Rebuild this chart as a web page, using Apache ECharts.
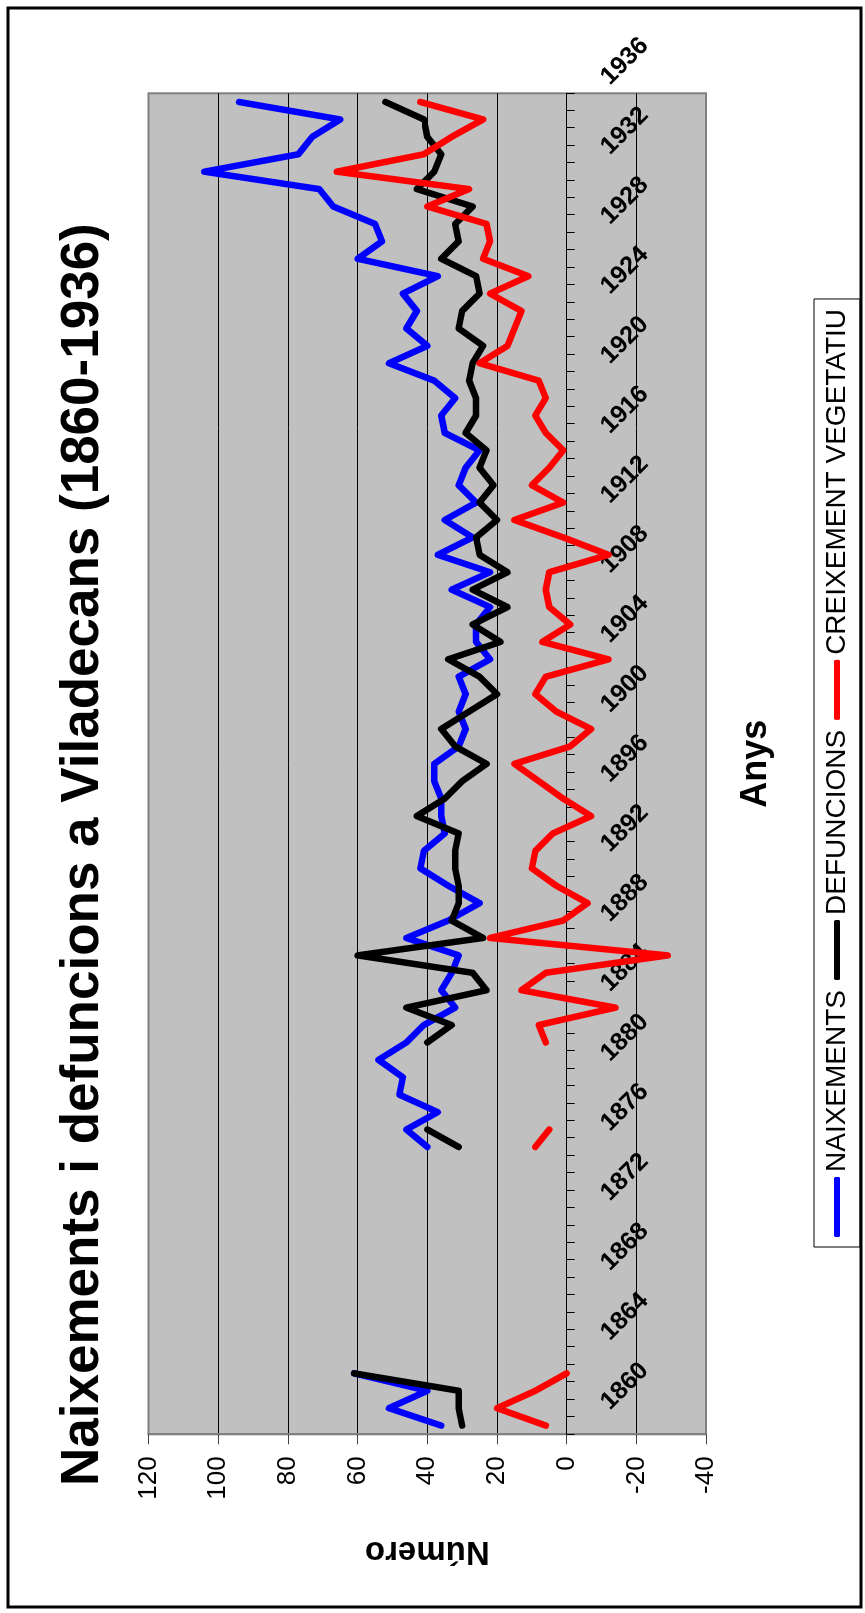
<!DOCTYPE html>
<html><head><meta charset="utf-8">
<script src="https://cdn.jsdelivr.net/npm/echarts@6/dist/echarts.min.js"></script>
<style>
html,body{margin:0;padding:0;background:#fff;overflow:hidden;width:865px;height:1613px;}
#c{position:absolute;left:0;top:0;width:1613px;height:865px;transform-origin:0 0;transform:translateY(1613px) rotate(-90deg);}
</style></head><body><div id="c"></div>
<script>
const years = [1860,1861,1862,1863,1864,1865,1866,1867,1868,1869,1870,1871,1872,1873,1874,1875,1876,1877,1878,1879,
1880,1881,1882,1883,1884,1885,1886,1887,1888,1889,1890,1891,1892,1893,1894,1895,1896,1897,1898,1899,
1900,1901,1902,1903,1904,1905,1906,1907,1908,1909,1910,1911,1912,1913,1914,1915,1916,1917,1918,1919,
1920,1921,1922,1923,1924,1925,1926,1927,1928,1929,1930,1931,1932,1933,1934,1935,1936];
const naixements = [36,51,40,61, null,null,null,null,null,null,null,null,null,null,null,null,
40,46,37,48,47,54,46,41,32,36,
33,31,46,34,25,34,42,41,35,36,
36,38,38,31,29,31,29,31,22,26,
26,22,33,22,37,27,35,26,31,29,
25,35,36,32,38,51,40,46,43,47,
37,60,53,55,67,71,104,77,73,65,
94];
const defuncions = [30,31,31,61, null,null,null,null,null,null,null,null,null,null,null,null,
31,40,null,null,null,null,40,33,46,23,
27,60,24,33,31,31,32,32,31,43,
35,30,23,32,36,28,20,25,34,19,
27,17,27,17,25,26,20,25,21,25,
23,29,26,26,28,27,24,31,30,25,
26,36,31,32,27,43,38,36,40,41,
52];
const creixement = [6,20,9,0, null,null,null,null,null,null,null,null,null,null,null,null,
9,5,null,null,null,null,6,8,-14,13,
6,-29,22,1,-6,3,10,9,4,-7,
1,8,15,-1,-7,3,9,6,-12,7,
-1,5,6,5,-12,1,15,1,10,5,
1,6,9,6,8,25,17,15,13,22,
11,24,22,23,40,28,66,41,33,24,
42];
const seriesNames = ['NAIXEMENTS','DEFUNCIONS','CREIXEMENT VEGETATIU'];
const seriesColors = ['#0000FF','#000000','#FF0000'];
const FF = "'Liberation Sans', Arial, sans-serif";

const chart = echarts.init(document.getElementById('c'), null, {renderer:'canvas', width:1613, height:865});
const mk = (i, data) => ({
  name: seriesNames[i], type:'line', xAxisIndex:0, yAxisIndex:0, data: data,
  symbol:'none', showSymbol:false, connectNulls:false,
  lineStyle:{width:6.5, color:seriesColors[i], cap:'round', join:'round'},
  itemStyle:{color:seriesColors[i]}
});
chart.setOption({
  animation:false,
  backgroundColor:'#fff',
  title:{text:'Naixements i defuncions a Viladecans (1860-1936)', left:127, top:57, padding:0,
    textStyle:{fontSize:53, fontWeight:'bold', color:'#000', fontFamily:FF}},
  legend:{left:366, top:814, orient:'horizontal', icon:'roundRect', itemWidth:60, itemHeight:6, itemGap:10,
    padding:[9,10], borderColor:'#000', borderWidth:1, data:seriesNames,
    textStyle:{fontSize:28, color:'#000', fontFamily:FF}},
  graphic:[{type:'rect', shape:{x:6, y:8, width:1599, height:853}, style:{fill:'none', stroke:'#000', lineWidth:3}, silent:true}],
  grid:[
    {left:178.7, right:93.3, top:148.5, bottom:158.9, show:true, backgroundColor:'#C0C0C0', borderColor:'#808080', borderWidth:2, outerBoundsMode:'none', containLabel:false},
    {left:207, right:81, top:148.5, bottom:298.3, show:false, outerBoundsMode:'none', containLabel:false}
  ],
  xAxis:[
    {gridIndex:0, type:'category', data:years, boundaryGap:true,
      axisLine:{onZero:true, lineStyle:{color:'#000', width:1}},
      axisTick:{show:true, interval:0, length:8, lineStyle:{color:'#000', width:1}},
      axisLabel:{show:false}, splitLine:{show:false},
      name:'Anys', nameLocation:'middle', nameGap:32,
      nameTextStyle:{fontSize:36, fontWeight:'bold', color:'#000', fontFamily:FF}},
    {gridIndex:1, type:'category', data:years, boundaryGap:false,
      axisLine:{show:false}, axisTick:{show:false}, splitLine:{show:false},
      axisLabel:{interval:3, rotate:-45, margin:38.5, fontSize:25, fontWeight:'bold', color:'#000', fontFamily:FF}}
  ],
  yAxis:[
    {gridIndex:0, type:'value', min:-40, max:120, interval:20,
      axisLine:{show:true, onZero:false, lineStyle:{color:'#808080', width:2}},
      axisTick:{show:true, length:10, lineStyle:{color:'#404040', width:1}},
      axisLabel:{fontSize:26, margin:22, color:'#000', fontFamily:FF},
      splitLine:{show:true, showMinLine:false, showMaxLine:false, lineStyle:{color:'#000', width:1}},
      name:'Número', nameLocation:'middle', nameGap:100,
      nameTextStyle:{fontSize:33, fontWeight:'bold', color:'#000', fontFamily:FF}},
    {gridIndex:1, type:'value', min:-40, max:120, show:false}
  ],
  series:[mk(0, naixements), mk(1, defuncions), mk(2, creixement)]
});
</script></body></html>
